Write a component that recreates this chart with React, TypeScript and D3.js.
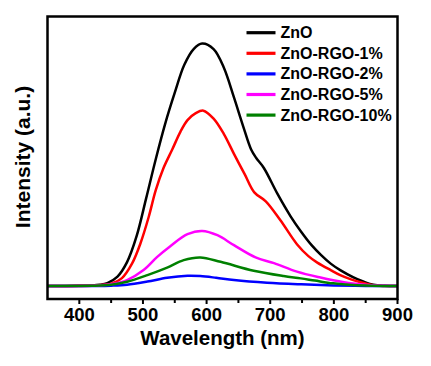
import React from 'react';
import * as d3 from 'd3';

// Photoluminescence spectra, wavelength (nm) vs intensity (a.u.)
const seriesNames = ['ZnO', 'ZnO-RGO-1%', 'ZnO-RGO-2%', 'ZnO-RGO-5%', 'ZnO-RGO-10%'];
const seriesColors = ['#000000', '#ff0000', '#0000ff', '#ff00ff', '#008000'];

const znO: [number, number][] = [
  [350, 0], [400, 0.2], [420, 0.5], [432, 1.2], [444, 3], [460, 9.5], [475, 24], [490, 50],
  [505, 88], [520, 127], [535, 163], [550, 194], [565, 222], [580, 238], [593, 243.3],
  [611, 237.7], [627, 219.3], [643, 189.3], [658, 159.3], [670, 137], [678, 128.5],
  [690, 118.5], [711, 93], [732, 70], [748, 55], [765, 41], [780, 31], [795, 22.5],
  [810, 16], [830, 9], [847, 4.3], [862, 1.2], [880, 0.2], [900, 0],
];
const rgo1: [number, number][] = [
  [350, 0], [400, 0.2], [430, 0.8], [450, 2.4], [467, 8], [483, 22.7], [496, 42.7], [509, 69.3],
  [520, 96], [532, 118], [546, 137], [559, 155], [570, 166.5], [583, 173.5], [595, 176],
  [611, 168], [627, 152.7], [643, 132.7], [660, 112], [675, 94], [693, 85], [716, 66],
  [742, 42], [760, 30], [774, 23.5], [795, 16], [810, 11], [828, 6.5], [842, 3.8],
  [860, 1], [880, 0.1], [900, 0],
];
const rgo2: [number, number][] = [
  [350, 0], [420, 0.1], [450, 0.4], [475, 1.3], [507, 4.5], [538, 8.3], [570, 10.3], [590, 10],
  [615, 8.3], [643, 6], [695, 3.3], [748, 1.7], [800, 0.6], [850, 0.1], [900, 0],
];
const rgo5: [number, number][] = [
  [350, 0], [420, 0.2], [449, 1.7], [475, 6], [501, 16], [522, 29], [543, 40], [570, 52],
  [593, 55.3], [617, 51], [643, 41], [677, 28.7], [706, 23], [742, 14.5], [779, 8.5],
  [799, 5.8], [830, 2.5], [853, 1], [880, 0.2], [900, 0],
];
const rgo10: [number, number][] = [
  [350, 0], [420, 0.2], [450, 1.2], [475, 4.3], [507, 11], [538, 18.5], [564, 26], [590, 28.7],
  [622, 24.3], [674, 15.3], [721, 10], [748, 7.7], [770, 5.5], [799, 2.7], [830, 1], [860, 0.3], [900, 0],
];
const seriesData = [znO, rgo1, rgo2, rgo5, rgo10];

const majorTicks = [400, 500, 600, 700, 800, 900];
const minorTicks = [450, 550, 650, 750, 850];

const W = 431;
const H = 366;
const left = 47.5, right = 397.5, top = 16.5, bottom = 299;
const font = 'Arial, "Liberation Sans", Helvetica, sans-serif';

export default function App() {
  const x = d3.scaleLinear().domain([350, 900]).range([left, right]);
  const y = d3.scaleLinear().domain([-13, 270.5]).range([bottom, top]);

  const line = d3.line<[number, number]>()
    .x(d => x(d[0]))
    .y(d => y(d[1]))
    .curve(d3.curveCatmullRom.alpha(0.5));

  return (
    <div style={{ position: 'absolute', left: 0, top: 0 }}>
      <svg width={W} height={H} style={{ display: 'block', background: '#fff' }}>
        <defs>
          <clipPath id="plot-clip">
            <rect x={left} y={top} width={right - left} height={bottom - top} />
          </clipPath>
        </defs>

        {/* curves */}
        <g clipPath="url(#plot-clip)">
          {seriesData.map((s, i) => (
            <path key={seriesNames[i]} d={line(s) || ''} fill="none"
              stroke={seriesColors[i]} strokeWidth={2.5} strokeLinejoin="round" />
          ))}
        </g>

        {/* frame */}
        <rect x={left} y={top} width={right - left} height={bottom - top}
          fill="none" stroke="#000" strokeWidth={2.5} />

        {/* ticks */}
        {majorTicks.map(t => (
          <line key={'M' + t} x1={x(t)} x2={x(t)} y1={bottom} y2={bottom + 5}
            stroke="#000" strokeWidth={2} />
        ))}
        {minorTicks.map(t => (
          <line key={'m' + t} x1={x(t)} x2={x(t)} y1={bottom} y2={bottom + 4}
            stroke="#000" strokeWidth={2} />
        ))}
        {majorTicks.map(t => (
          <text key={'l' + t} x={x(t)} y={320.5} textAnchor="middle" fontFamily={font}
            fontWeight="bold" fontSize={18.5} fill="#000">{t}</text>
        ))}

        {/* axis titles */}
        <text x={(left + right) / 2} y={344.5} textAnchor="middle" fontFamily={font}
          fontWeight="bold" fontSize={20.5} fill="#000">Wavelength (nm)</text>
        <text transform={`translate(30,${157}) rotate(-90)`} textAnchor="middle"
          fontFamily={font} fontWeight="bold" fontSize={21} fill="#000">Intensity (a.u.)</text>

        {/* legend */}
        {seriesNames.map((name, i) => {
          const cy = 32.7 + i * 20.6;
          return (
            <g key={name}>
              <line x1={246.5} x2={275.5} y1={cy} y2={cy} stroke={seriesColors[i]} strokeWidth={3.2} />
              <text x={280.5} y={cy + 5.5} fontFamily={font} fontWeight="bold"
                fontSize={16} fill="#000">{name}</text>
            </g>
          );
        })}
      </svg>
    </div>
  );
}
